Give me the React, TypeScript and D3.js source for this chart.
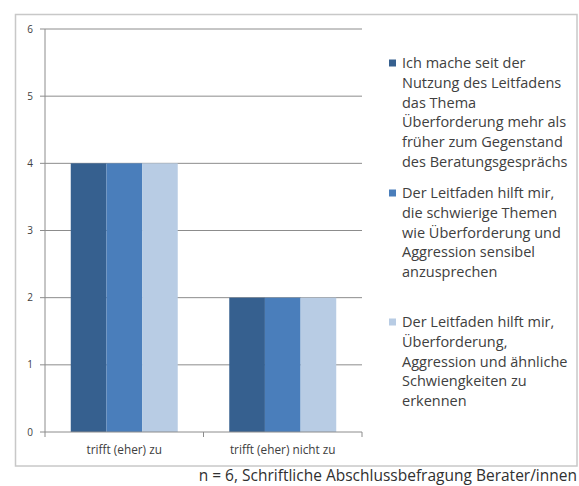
import React from "react";
import * as d3 from "d3";

const categories = ["trifft (eher) zu", "trifft (eher) nicht zu"];
const seriesNames = [
  "Ich mache seit der Nutzung des Leitfadens das Thema Überforderung mehr als früher zum Gegenstand des Beratungsgesprächs",
  "Der Leitfaden hilft mir, die schwierige Themen wie Überforderung und Aggression sensibel anzusprechen",
  "Der Leitfaden hilft mir, Überforderung, Aggression und ähnliche Schwiengkeiten zu erkennen",
];
const legendLines = [
  ["Ich mache seit der", "Nutzung des Leitfadens", "das Thema", "Überforderung mehr als", "früher zum Gegenstand", "des Beratungsgesprächs"],
  ["Der Leitfaden hilft mir,", "die schwierige Themen", "wie Überforderung und", "Aggression sensibel", "anzusprechen"],
  ["Der Leitfaden hilft mir,", "Überforderung,", "Aggression und ähnliche", "Schwiengkeiten zu", "erkennen"],
];
const series1 = [4, 2];
const series2 = [4, 2];
const series3 = [4, 2];
const yTicks = [0, 1, 2, 3, 4, 5, 6];
const footnote = "n = 6, Schriftliche Abschlussbefragung Berater/innen";

const colors = ["#36608f", "#4a7ebb", "#b8cce4"];
const FONT = "'Open Sans', 'DejaVu Sans', sans-serif";

export default function App() {
  const W = 579, H = 486;
  const left = 45, right = 362, top = 29, bottom = 432;
  const allSeries = [series1, series2, series3];

  const x0 = d3.scaleBand<string>().domain(categories).range([left, right])
    .paddingInner(0.325).paddingOuter(0.1625);
  const x1 = d3.scaleBand<number>().domain([0, 1, 2]).range([0, x0.bandwidth()]).padding(0);
  const y = d3.scaleLinear().domain([0, 6]).range([bottom, top]);

  const legendStarts = [63, 193, 322];
  const lineH = 19.8;

  return (
    <svg width={W} height={H} style={{ position: "absolute", left: 0, top: 0, background: "#fff" }}>
      <rect x={15.5} y={14.5} width={577 - 15.5} height={466 - 14.5} fill="#fff" stroke="#c8c8c8" strokeWidth={1.5} />
      {yTicks.map((t) => (
        <g key={t}>
          <line x1={40} x2={t === 0 ? left : right} y1={y(t)} y2={y(t)} stroke="#8c8c8c" strokeWidth={1} />
          <text x={30} y={y(t)} dy="0.35em" textAnchor="middle" fontSize={10} fill="#404040" fontFamily={FONT}>{t}</text>
        </g>
      ))}
      <line x1={left} x2={left} y1={top} y2={bottom} stroke="#8c8c8c" strokeWidth={1} />
      {categories.map((c, i) =>
        allSeries.map((s, j) => (
          <rect key={c + j} x={(x0(c) ?? 0) + (x1(j) ?? 0)} y={y(s[i])} width={x1.bandwidth()}
            height={y(0) - y(s[i])} fill={colors[j]} />
        ))
      )}
      <line x1={left} x2={right} y1={bottom} y2={bottom} stroke="#8c8c8c" strokeWidth={1} />
      {[left, (left + right) / 2, right].map((tx, i) => (
        <line key={i} x1={tx} x2={tx} y1={bottom} y2={bottom + 5} stroke="#8c8c8c" strokeWidth={1} />
      ))}
      {categories.map((c) => (
        <text key={c} x={(x0(c) ?? 0) + x0.bandwidth() / 2} y={450} dy="0.35em" textAnchor="middle"
          fontSize={11.8} fill="#404040" fontFamily={FONT}>{c}</text>
      ))}
      {legendLines.map((lines, j) => (
        <g key={j}>
          <title>{seriesNames[j]}</title>
          <rect x={389} y={legendStarts[j] - 3.5} width={7} height={7} fill={colors[j]} />
          {lines.map((l, k) => (
            <text key={k} x={402} y={legendStarts[j] + k * lineH} dy="0.35em" fontSize={14.5}
              fill="#404040" fontFamily={FONT}>{l}</text>
          ))}
        </g>
      ))}
      <text x={577} y={481} textAnchor="end" fontSize={15.5} fill="#303030" fontFamily={FONT}>{footnote}</text>
    </svg>
  );
}
